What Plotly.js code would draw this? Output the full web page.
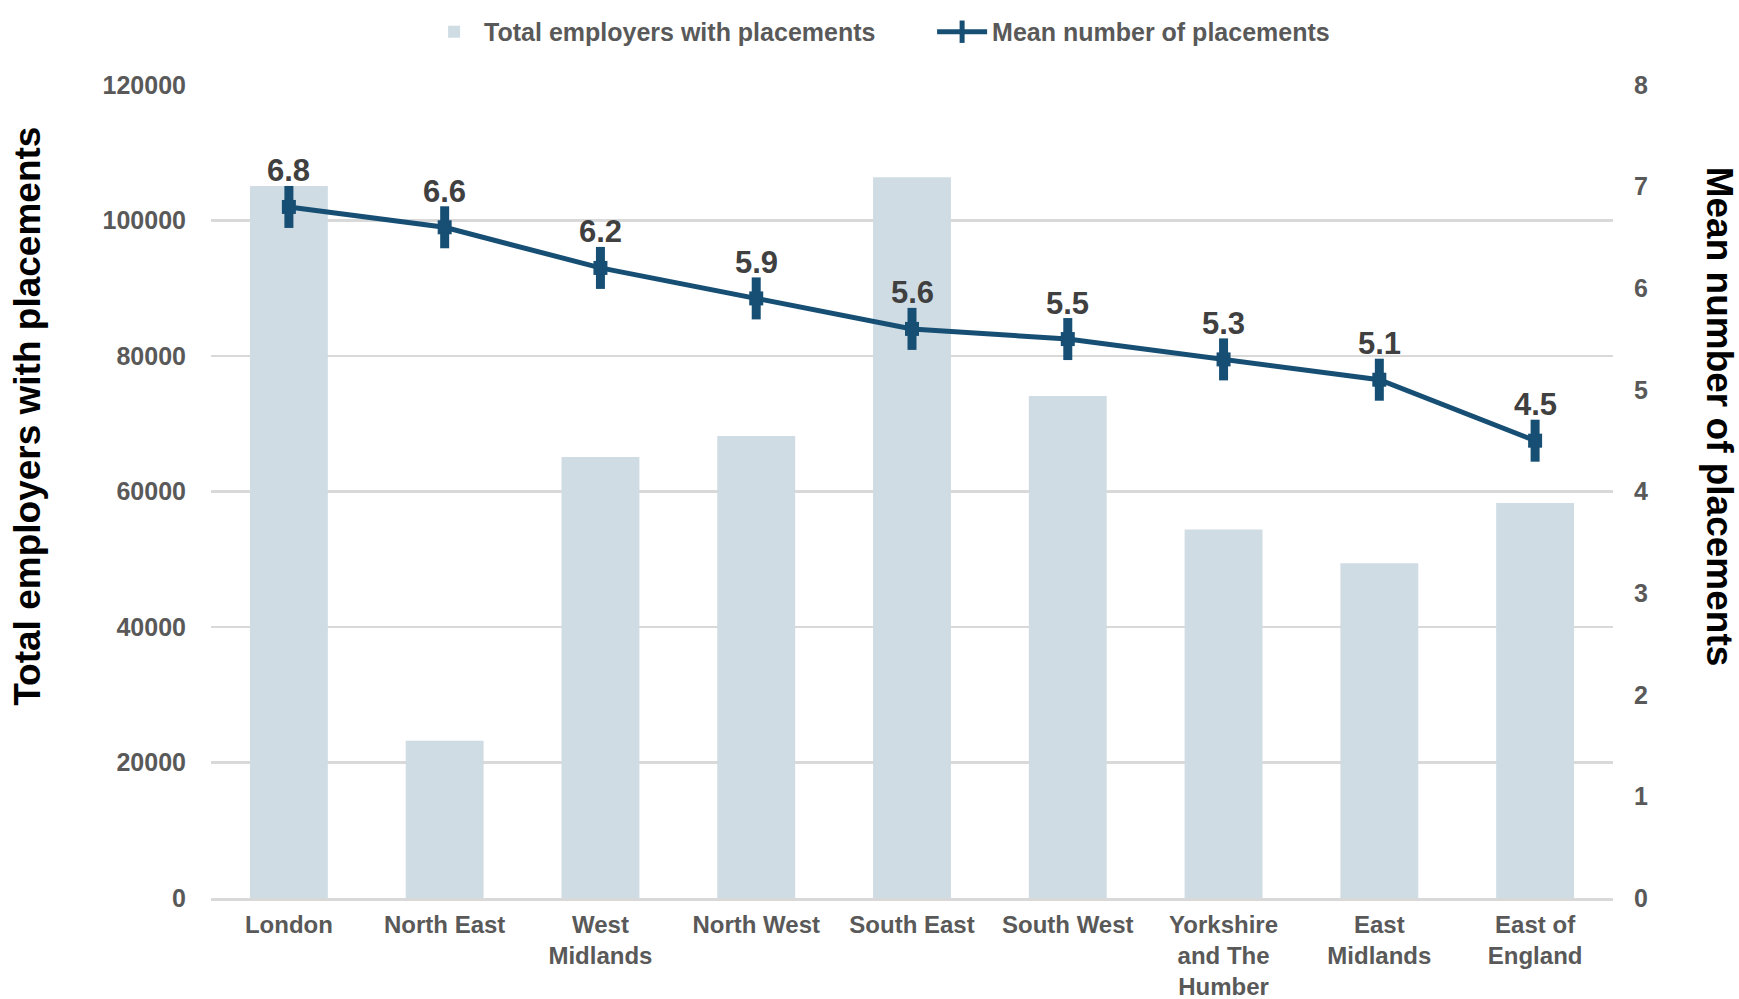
<!DOCTYPE html>
<html>
<head>
<meta charset="utf-8">
<script src="https://cdn.plot.ly/plotly-3.0.1.min.js"></script>
<style>
  html, body { margin: 0; padding: 0; background: #ffffff; }
  #chart { width: 1739px; height: 999px; }
</style>
</head>
<body>
<div id="chart"></div>
<script>
const regions = ["London", "North East", "West<br>Midlands", "North West", "South East", "South West", "Yorkshire<br>and The<br>Humber", "East<br>Midlands", "East of<br>England"];
const totalEmployers = [105100, 23200, 65100, 68200, 106400, 74100, 54400, 49400, 58300];
const meanPlacements = [6.8, 6.6, 6.2, 5.9, 5.6, 5.5, 5.3, 5.1, 4.5];
const meanLabels = ["6.8", "6.6", "6.2", "5.9", "5.6", "5.5", "5.3", "5.1", "4.5"];

const FONT = "Liberation Sans, Arial, sans-serif";
const LINE_COLOR = "#174f74";
const BAR_COLOR = "#cfdce4";
const GRID = "#d9d9d9";
const TICK_COLOR = "#595959";

const traces = [
  {
    type: "bar",
    name: "<b>Total employers with placements</b>",
    x: regions,
    y: totalEmployers,
    marker: { color: BAR_COLOR },
    yaxis: "y",
    hoverinfo: "x+y"
  },
  {
    type: "scatter",
    mode: "lines+markers",
    name: "<b>Mean number of placements</b>",
    x: regions,
    y: meanPlacements,
    yaxis: "y2",
    line: { color: LINE_COLOR, width: 5 },
    marker: { symbol: "line-ns-open", size: 30, color: LINE_COLOR, line: { color: LINE_COLOR, width: 9 } }
  },
  {
    type: "scatter",
    mode: "markers",
    showlegend: false,
    hoverinfo: "skip",
    x: regions,
    y: meanPlacements,
    yaxis: "y2",
    marker: { symbol: "square", size: 14, color: LINE_COLOR }
  }
];

const annotations = meanPlacements.map((v, i) => ({
  x: regions[i],
  y: v,
  xref: "x",
  yref: "y2",
  text: "<b>" + meanLabels[i] + "</b>",
  showarrow: false,
  yshift: 36,
  font: { family: FONT, size: 31, color: "#404040" }
}));

annotations.push({
  xref: "paper", yref: "paper",
  x: -0.1305, y: 0.592,
  xanchor: "center", yanchor: "middle",
  textangle: -90,
  text: "<b>Total employers with placements</b>",
  showarrow: false,
  font: { family: FONT, size: 37, color: "#000000" }
});
annotations.push({
  xref: "paper", yref: "paper",
  x: 1.0756, y: 0.592,
  xanchor: "center", yanchor: "middle",
  textangle: 90,
  text: "<b>Mean number of placements</b>",
  showarrow: false,
  font: { family: FONT, size: 37, color: "#000000" }
});

const layout = {
  width: 1739,
  height: 999,
  paper_bgcolor: "#ffffff",
  plot_bgcolor: "#ffffff",
  font: { family: FONT, size: 25, color: TICK_COLOR },
  margin: { l: 211, r: 126, t: 85, b: 101 },
  bargap: 0.5,
  showlegend: true,
  legend: {
    orientation: "h",
    xref: "container", yref: "container",
    x: 0.536, y: 0.968,
    xanchor: "center", yanchor: "middle",
    font: { family: FONT, size: 25, color: TICK_COLOR },
    itemwidth: 50,
    entrywidth: 443,
    entrywidthmode: "pixels",
    bgcolor: "rgba(0,0,0,0)"
  },
  xaxis: {
    type: "category",
    range: [-0.5, 8.5],
    showgrid: false,
    showline: true,
    linecolor: GRID,
    linewidth: 3,
    ticks: "",
    ticklabelstandoff: 3,
    tickfont: { family: FONT, size: 24, color: TICK_COLOR, weight: "bold" },
    fixedrange: true
  },
  yaxis: {
    range: [0, 120000],
    dtick: 20000,
    tick0: 0,
    tickformat: "d",
    showgrid: true,
    gridcolor: GRID,
    gridwidth: 2.5,
    zeroline: false,
    showline: false,
    ticks: "",
    ticklabelstandoff: 24,
    tickfont: { family: FONT, size: 25, color: TICK_COLOR, weight: "bold" }
  },
  yaxis2: {
    range: [0, 8],
    dtick: 1,
    tick0: 0,
    overlaying: "y",
    side: "right",
    showgrid: false,
    zeroline: false,
    showline: false,
    ticks: "",
    ticklabelstandoff: 20,
    tickfont: { family: FONT, size: 25, color: TICK_COLOR, weight: "bold" }
  },
  annotations: annotations
};

Plotly.newPlot("chart", traces, layout, { displayModeBar: false, staticPlot: true });
</script>
</body>
</html>
